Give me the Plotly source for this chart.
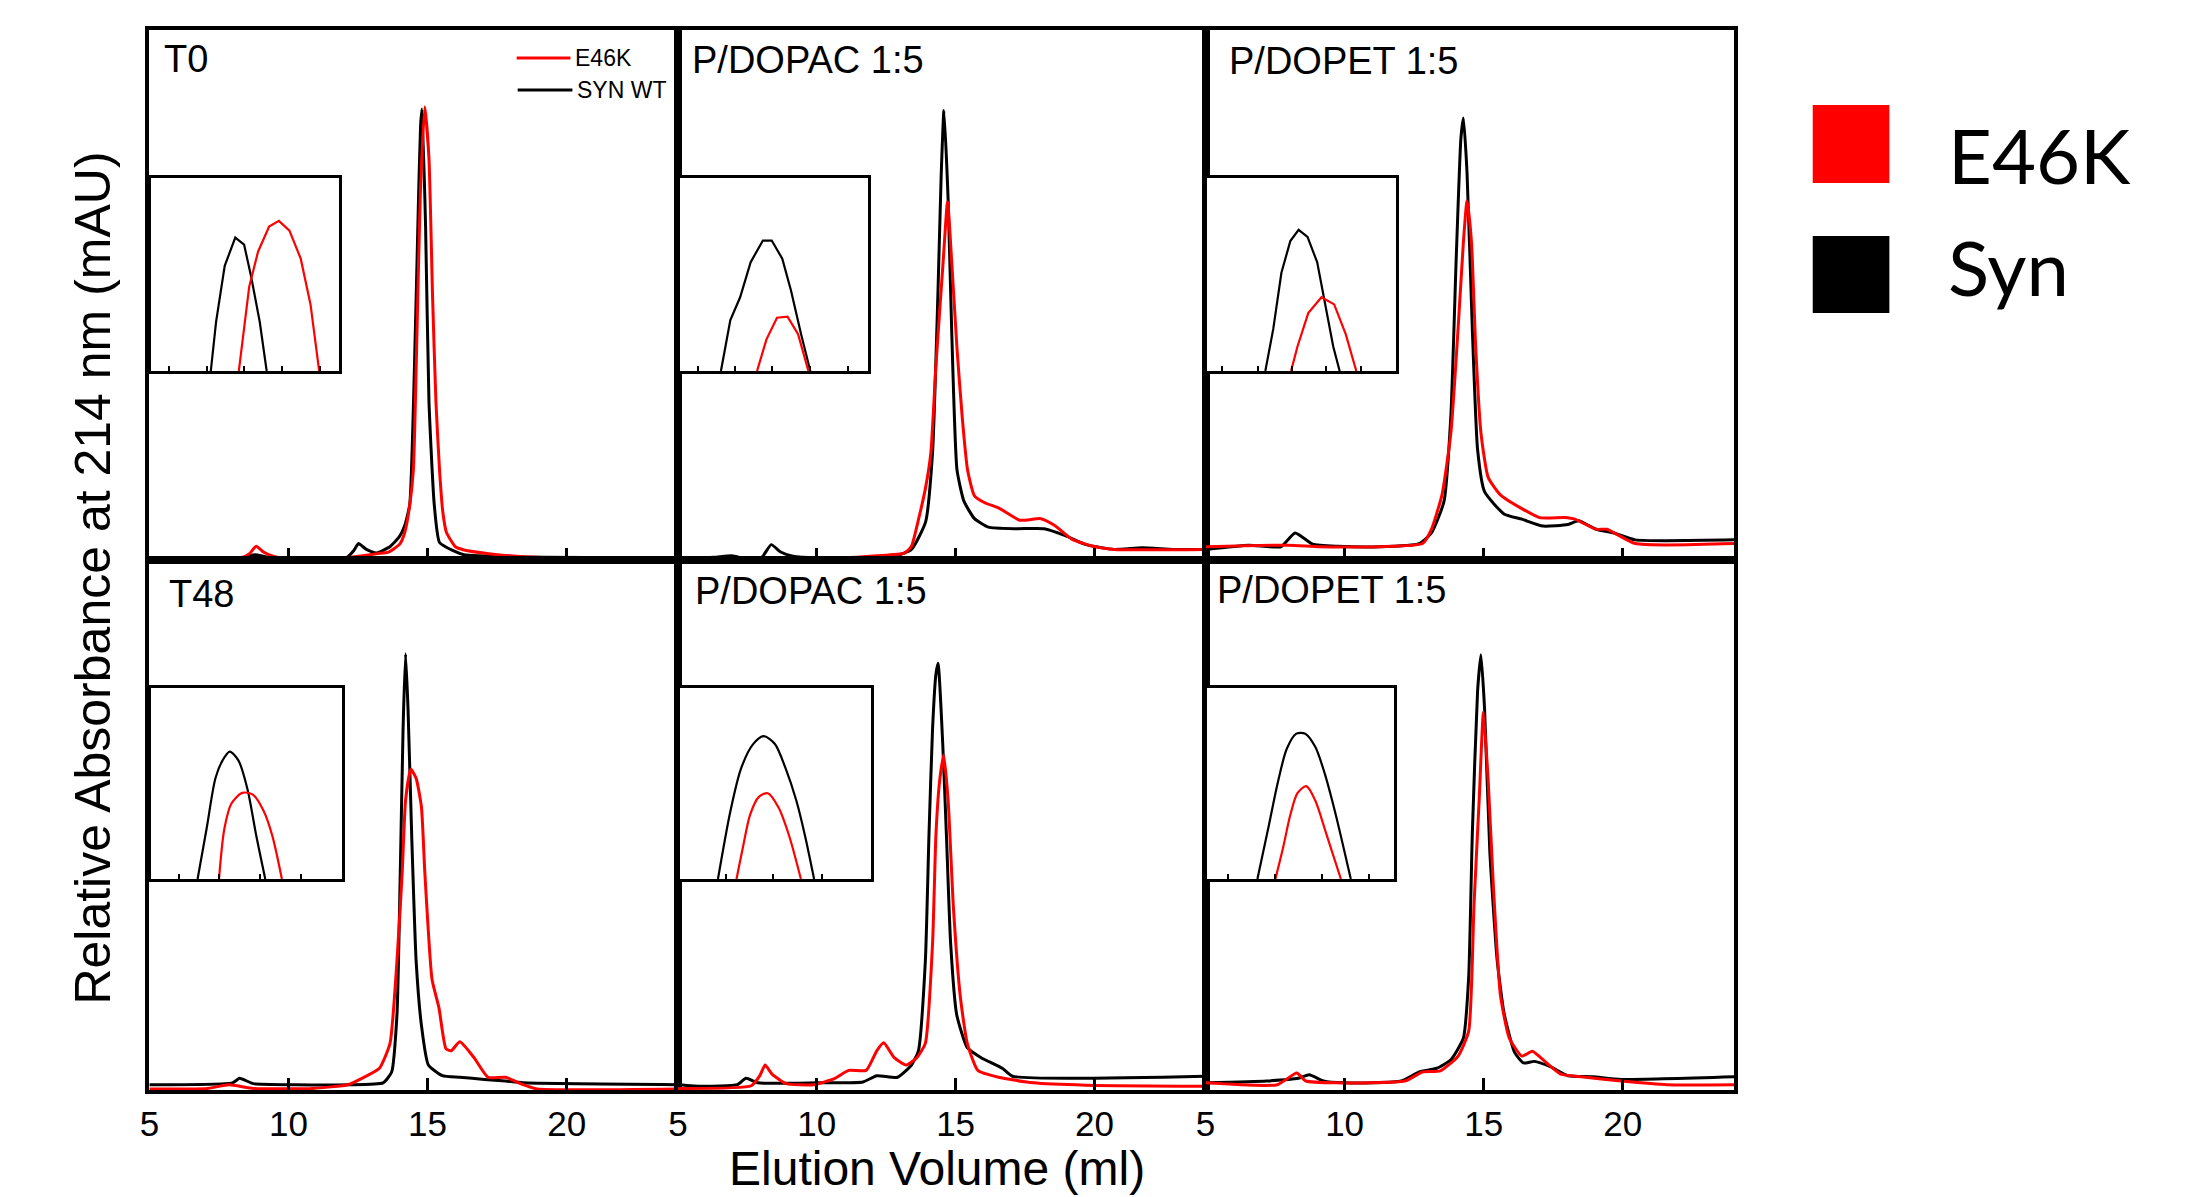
import plotly.graph_objects as go

W, H = 2190, 1197


def fx(px):
    return px / W


def fy(py):
    return 1 - py / H


# ---------------- text ----------------
PANEL_TITLES = ["T0", "P/DOPAC 1:5", "P/DOPET 1:5", "T48", "P/DOPAC 1:5", "P/DOPET 1:5"]
INNER_LEGEND = ["E46K", "SYN WT"]
OUTER_LEGEND = ["E46K", "Syn"]
X_TITLE = "Elution Volume (ml)"
Y_TITLE = "Relative Absorbance at 214 nm (mAU)"
X_TICKS = [5, 10, 15, 20]
X_RANGE = [5, 24]

# ---------------- data: main chromatograms (ml, relative absorbance) ----------------
T0_SYN_ML = [5.0, 7.0, 8.4, 8.8, 9.3, 12.1, 12.35, 12.52, 12.8, 13.17, 13.67, 14.0, 14.18, 14.36, 14.53,
             14.68, 14.75, 14.80, 14.93, 15.05, 15.24, 15.43, 15.9, 16.31, 18.0, 24.0]
T0_SYN_ABS = [0.004, 0.004, 0.005, 0.010, 0.005, 0.005, 0.018, 0.031, 0.020, 0.013, 0.026, 0.045, 0.065, 0.105,
              0.366, 0.693, 0.82, 0.851, 0.627, 0.30, 0.105, 0.033, 0.018, 0.010, 0.006, 0.004]
T0_E46K_ML = [5.0, 8.3, 8.6, 8.84, 9.1, 9.5, 10.0, 12.0, 12.67, 13.2, 13.6, 14.0, 14.18, 14.35, 14.49, 14.62,
              14.74, 14.90, 15.05, 15.18, 15.3, 15.43, 15.55, 15.68, 16.0, 16.31, 17.2, 18.5, 20.0, 24.0]
T0_E46K_ABS = [0.003, 0.004, 0.012, 0.026, 0.015, 0.006, 0.003, 0.004, 0.008, 0.012, 0.015, 0.030, 0.052, 0.10,
               0.17, 0.43, 0.69, 0.855, 0.758, 0.497, 0.30, 0.17, 0.09, 0.052, 0.025, 0.019, 0.012, 0.006, 0.004, 0.003]

P2_SYN_ML = [5.0, 6.3, 6.94, 7.4, 8.0, 8.36, 8.7, 9.14, 10.0, 12.79, 13.41, 13.92, 14.17, 14.36, 14.48, 14.58,
             14.73, 14.86, 15.05, 15.30, 15.68, 16.18, 17.19, 18.19, 18.95, 19.70, 20.71, 21.71, 22.84, 24.0]
P2_SYN_ABS = [0.002, 0.005, 0.008, 0.003, 0.004, 0.029, 0.015, 0.007, 0.004, 0.007, 0.020, 0.072, 0.203, 0.497,
              0.725, 0.848, 0.680, 0.431, 0.170, 0.111, 0.078, 0.062, 0.059, 0.059, 0.046, 0.029, 0.020, 0.023,
              0.020, 0.020]
P2_E46K_ML = [5.0, 8.0, 8.4, 10.9, 12.16, 13.16, 13.41, 13.67, 13.92, 14.11, 14.29, 14.55, 14.71, 14.86, 15.05,
              15.24, 15.43, 15.68, 16.05, 16.56, 17.31, 18.07, 18.57, 19.2, 19.95, 20.71, 24.0]
P2_E46K_ABS = [0.001, 0.002, 0.004, 0.004, 0.008, 0.013, 0.026, 0.078, 0.137, 0.203, 0.366, 0.562, 0.676, 0.562,
               0.399, 0.268, 0.170, 0.121, 0.108, 0.098, 0.075, 0.078, 0.065, 0.039, 0.026, 0.020, 0.020]

P3_SYN_ML = [5.0, 6.56, 7.71, 8.22, 8.85, 9.75, 11.27, 12.68, 13.12, 13.57, 13.82, 14.01, 14.18, 14.27, 14.40,
             14.59, 14.78, 15.03, 15.73, 16.37, 17.13, 18.03, 18.41, 19.04, 19.68, 20.45, 24.0]
P3_SYN_ABS = [0.020, 0.028, 0.025, 0.051, 0.030, 0.026, 0.025, 0.031, 0.051, 0.11, 0.273, 0.567, 0.796, 0.834,
              0.731, 0.437, 0.208, 0.129, 0.087, 0.077, 0.064, 0.067, 0.074, 0.058, 0.051, 0.038, 0.038]
P3_E46K_ML = [5.0, 7.96, 9.11, 11.27, 12.8, 13.12, 13.5, 13.82, 14.08, 14.27, 14.40, 14.56, 14.71, 14.9, 15.16,
              15.6, 16.37, 17.01, 17.9, 18.28, 19.04, 19.43, 20.45, 24.0]
P3_E46K_ABS = [0.025, 0.028, 0.025, 0.025, 0.031, 0.058, 0.123, 0.24, 0.437, 0.60, 0.678, 0.60, 0.404, 0.24,
               0.156, 0.123, 0.097, 0.080, 0.080, 0.077, 0.058, 0.058, 0.031, 0.031]

P4_SYN_ML = [5.0, 7.99, 8.24, 8.74, 10.25, 12.14, 13.4, 13.71, 13.9, 14.02, 14.12, 14.21, 14.3, 14.43, 14.59,
             14.78, 15.03, 15.53, 16.16, 17.04, 17.8, 18.43, 24.0]
P4_SYN_ABS = [0.010, 0.0135, 0.022, 0.012, 0.010, 0.010, 0.0135, 0.034, 0.142, 0.412, 0.682, 0.823, 0.716, 0.48,
              0.243, 0.122, 0.047, 0.027, 0.024, 0.020, 0.017, 0.0135, 0.010]
P4_E46K_ML = [5.0, 7.1, 7.86, 8.74, 10.88, 12.14, 12.64, 13.27, 13.65, 13.9, 14.09, 14.21, 14.40, 14.59, 14.78,
              14.9, 15.16, 15.41, 15.66, 15.85, 16.16, 16.67, 17.17, 17.8, 18.43, 18.93, 24.0]
P4_E46K_ABS = [0.002, 0.003, 0.010, 0.003, 0.003, 0.010, 0.022, 0.041, 0.088, 0.243, 0.412, 0.547, 0.605, 0.588,
               0.534, 0.412, 0.209, 0.155, 0.078, 0.074, 0.091, 0.061, 0.024, 0.024, 0.010, 0.002, 0.002]

P5_SYN_ML = [5.0, 5.88, 7.14, 7.45, 7.89, 10.03, 11.66, 12.16, 12.91, 13.41, 13.66, 13.91, 14.04, 14.17, 14.29,
             14.37, 14.54, 14.67, 14.82, 15.04, 15.42, 15.92, 16.68, 17.05, 24.0]
P5_SYN_ABS = [0.010, 0.007, 0.010, 0.022, 0.0135, 0.0135, 0.015, 0.027, 0.024, 0.047, 0.074, 0.243, 0.48, 0.682,
              0.784, 0.805, 0.649, 0.48, 0.277, 0.142, 0.080, 0.061, 0.041, 0.026, 0.026]
P5_E46K_ML = [5.0, 7.64, 7.95, 8.14, 8.39, 8.9, 9.9, 10.65, 11.15, 11.78, 12.16, 12.41, 12.79, 13.22, 13.6, 13.91,
              14.17, 14.29, 14.42, 14.57, 14.73, 14.92, 15.17, 15.42, 15.8, 16.55, 17.8, 19.69, 24.0]
P5_E46K_ABS = [0.003, 0.008, 0.027, 0.047, 0.030, 0.012, 0.010, 0.022, 0.037, 0.037, 0.074, 0.089, 0.061, 0.047,
               0.061, 0.088, 0.277, 0.48, 0.581, 0.632, 0.547, 0.345, 0.176, 0.088, 0.037, 0.024, 0.0135, 0.009,
               0.007]

P6_SYN_ML = [5.0, 7.2, 8.34, 8.73, 9.24, 10.0, 12.04, 12.68, 13.31, 13.82, 14.27, 14.46, 14.59, 14.78, 14.9,
             15.03, 15.22, 15.48, 15.73, 16.11, 16.43, 16.82, 17.39, 18.03, 18.92, 19.94, 24.0]
P6_SYN_ABS = [0.0135, 0.017, 0.022, 0.029, 0.017, 0.0135, 0.017, 0.034, 0.041, 0.057, 0.098, 0.213, 0.483, 0.753,
              0.821, 0.72, 0.449, 0.247, 0.145, 0.071, 0.051, 0.054, 0.044, 0.027, 0.025, 0.020, 0.025]
P6_E46K_ML = [5.0, 7.58, 8.28, 8.6, 9.75, 12.17, 12.8, 13.44, 14.08, 14.46, 14.65, 14.84, 14.99, 15.16, 15.35,
              15.6, 15.92, 16.37, 16.75, 17.26, 17.77, 18.66, 19.94, 21.59, 24.0]
P6_E46K_ABS = [0.0135, 0.010, 0.032, 0.017, 0.0135, 0.017, 0.034, 0.036, 0.064, 0.111, 0.348, 0.551, 0.713, 0.584,
               0.382, 0.179, 0.098, 0.064, 0.073, 0.051, 0.030, 0.024, 0.017, 0.010, 0.010]

# ---------------- data: insets (zoomed peak, relative units) ----------------
T0_INSET_SYN_U = [0.316, 0.344, 0.390, 0.446, 0.493, 0.530, 0.576, 0.613]
T0_INSET_SYN_V = [0, 0.255, 0.545, 0.691, 0.655, 0.491, 0.255, 0]
T0_INSET_E46K_U = [0.465, 0.493, 0.520, 0.567, 0.626, 0.678, 0.734, 0.794, 0.846, 0.892]
T0_INSET_E46K_V = [0, 0.218, 0.436, 0.618, 0.749, 0.778, 0.727, 0.582, 0.345, 0]
T0_INSET_TICKS = [0.093, 0.297, 0.493, 0.697, 0.898]

P2_INSET_SYN_U = [0.218, 0.268, 0.320, 0.376, 0.441, 0.488, 0.544, 0.590, 0.646, 0.693]
P2_INSET_SYN_V = [0, 0.264, 0.382, 0.564, 0.676, 0.676, 0.582, 0.418, 0.182, 0]
P2_INSET_E46K_U = [0.410, 0.460, 0.516, 0.572, 0.628, 0.683]
P2_INSET_E46K_V = [0, 0.164, 0.276, 0.282, 0.191, 0]
P2_INSET_TICKS = [0.097, 0.292, 0.488, 0.693, 0.894]

P3_INSET_SYN_U = [0.311, 0.353, 0.396, 0.443, 0.487, 0.534, 0.585, 0.632, 0.670, 0.704]
P3_INSET_SYN_V = [0, 0.218, 0.509, 0.673, 0.731, 0.695, 0.564, 0.327, 0.127, 0]
P3_INSET_E46K_U = [0.447, 0.481, 0.538, 0.608, 0.675, 0.736, 0.792]
P3_INSET_E46K_V = [0, 0.127, 0.300, 0.382, 0.345, 0.191, 0]
P3_INSET_TICKS = [0.081, 0.270, 0.450, 0.632, 0.817]

P4_INSET_SYN_U = [0.242, 0.289, 0.335, 0.372, 0.410, 0.456, 0.503, 0.549, 0.596]
P4_INSET_SYN_V = [0, 0.263, 0.526, 0.620, 0.667, 0.620, 0.470, 0.226, 0]
P4_INSET_E46K_U = [0.354, 0.382, 0.419, 0.475, 0.531, 0.587, 0.633, 0.683]
P4_INSET_E46K_V = [0, 0.263, 0.395, 0.451, 0.442, 0.357, 0.226, 0]
P4_INSET_TICKS = [0.143, 0.356, 0.569, 0.782]

P5_INSET_SYN_U = [0.199, 0.264, 0.320, 0.382, 0.438, 0.497, 0.553, 0.609, 0.655, 0.702]
P5_INSET_SYN_V = [0, 0.355, 0.579, 0.705, 0.748, 0.707, 0.579, 0.411, 0.224, 0]
P5_INSET_E46K_U = [0.296, 0.330, 0.367, 0.413, 0.460, 0.516, 0.572, 0.633]
P5_INSET_E46K_V = [0, 0.168, 0.336, 0.430, 0.449, 0.374, 0.224, 0]
P5_INSET_TICKS = [0.242, 0.488, 0.743]

P6_INSET_SYN_U = [0.272, 0.333, 0.381, 0.429, 0.480, 0.528, 0.581, 0.629, 0.686, 0.771]
P6_INSET_SYN_V = [0, 0.280, 0.505, 0.682, 0.761, 0.761, 0.692, 0.561, 0.355, 0]
P6_INSET_E46K_U = [0.368, 0.410, 0.448, 0.486, 0.533, 0.581, 0.638, 0.718]
P6_INSET_E46K_V = [0, 0.168, 0.336, 0.449, 0.486, 0.411, 0.243, 0]
P6_INSET_TICKS = [0.114, 0.364, 0.615, 0.870]

MAIN = [
    (T0_SYN_ML, T0_SYN_ABS, T0_E46K_ML, T0_E46K_ABS),
    (P2_SYN_ML, P2_SYN_ABS, P2_E46K_ML, P2_E46K_ABS),
    (P3_SYN_ML, P3_SYN_ABS, P3_E46K_ML, P3_E46K_ABS),
    (P4_SYN_ML, P4_SYN_ABS, P4_E46K_ML, P4_E46K_ABS),
    (P5_SYN_ML, P5_SYN_ABS, P5_E46K_ML, P5_E46K_ABS),
    (P6_SYN_ML, P6_SYN_ABS, P6_E46K_ML, P6_E46K_ABS),
]
INSETS = [
    (T0_INSET_SYN_U, T0_INSET_SYN_V, T0_INSET_E46K_U, T0_INSET_E46K_V, T0_INSET_TICKS),
    (P2_INSET_SYN_U, P2_INSET_SYN_V, P2_INSET_E46K_U, P2_INSET_E46K_V, P2_INSET_TICKS),
    (P3_INSET_SYN_U, P3_INSET_SYN_V, P3_INSET_E46K_U, P3_INSET_E46K_V, P3_INSET_TICKS),
    (P4_INSET_SYN_U, P4_INSET_SYN_V, P4_INSET_E46K_U, P4_INSET_E46K_V, P4_INSET_TICKS),
    (P5_INSET_SYN_U, P5_INSET_SYN_V, P5_INSET_E46K_U, P5_INSET_E46K_V, P5_INSET_TICKS),
    (P6_INSET_SYN_U, P6_INSET_SYN_V, P6_INSET_E46K_U, P6_INSET_E46K_V, P6_INSET_TICKS),
]

# ---------------- layout geometry (pixels) ----------------
RED = "#ff0000"
BLACK = "#000000"
FONT = "Liberation Sans, Arial, sans-serif"
LEGEND_FONT = "Lato, Noto Sans, sans-serif"
COLS = [(140, 671), (671, 1201), (1201, 1732)]
ROWS = [(30, 560), (560, 1090)]
INSET_X = [(142, 331), (673, 862), (1202, 1392), (142, 334), (673, 865), (1202, 1390)]
INSET_Y = [(178, 371), (178, 371), (178, 371), (688, 879), (688, 879), (688, 879)]
TITLE_POS = [(154, 59), (684, 60), (1224, 61), (159, 594), (687, 591), (1212, 590)]

fig = go.Figure()
layout = dict(
    width=W, height=H, autosize=False,
    margin=dict(l=0, r=0, t=0, b=0, pad=0),
    paper_bgcolor="white", plot_bgcolor="white",
    showlegend=False,
    font=dict(family=FONT, color="black"),
)

for i in range(6):
    r, c = divmod(i, 3)
    n = i + 1
    xs = "" if n == 1 else str(n)
    syn_x, syn_y, e_x, e_y = MAIN[i]
    fig.add_trace(go.Scatter(x=syn_x, y=syn_y, mode="lines", name="SYN WT",
                             line=dict(color=BLACK, width=3, shape="spline", smoothing=0.5),
                             xaxis="x" + xs, yaxis="y" + xs, hoverinfo="skip"))
    fig.add_trace(go.Scatter(x=e_x, y=e_y, mode="lines", name="E46K",
                             line=dict(color=RED, width=3, shape="spline", smoothing=0.5),
                             xaxis="x" + xs, yaxis="y" + xs, hoverinfo="skip"))
    x0, x1 = COLS[c]
    y0, y1 = ROWS[r]
    layout["xaxis" + xs] = dict(
        domain=[fx(x0), fx(x1)], range=X_RANGE, anchor="y" + xs,
        showline=True, linecolor="black", linewidth=4, mirror=True,
        showgrid=False, zeroline=False,
        ticks="inside", ticklen=12, tickwidth=3, tickcolor="black",
        tickmode="array", tickvals=X_TICKS, ticktext=[str(t) for t in X_TICKS],
        showticklabels=(r == 1), tickfont=dict(size=35, family=FONT, color="black"),
        ticklabelstandoff=0,
    )
    layout["yaxis" + xs] = dict(
        domain=[fy(y1), fy(y0)], range=[0, 1], anchor="x" + xs,
        showline=True, linecolor="black", linewidth=4, mirror=True,
        showgrid=False, zeroline=False, ticks="", showticklabels=False,
    )

for i in range(6):
    n = i + 7
    xs = str(n)
    su, sv, eu, ev, ticks = INSETS[i]
    shape = "linear" if i < 3 else "spline"
    fig.add_trace(go.Scatter(x=su, y=sv, mode="lines", name="SYN WT",
                             line=dict(color=BLACK, width=2.2, shape=shape, smoothing=0.8),
                             xaxis="x" + xs, yaxis="y" + xs, hoverinfo="skip"))
    fig.add_trace(go.Scatter(x=eu, y=ev, mode="lines", name="E46K",
                             line=dict(color=RED, width=2.2, shape=shape, smoothing=0.8),
                             xaxis="x" + xs, yaxis="y" + xs, hoverinfo="skip"))
    x0, x1 = INSET_X[i]
    y0, y1 = INSET_Y[i]
    layout["xaxis" + xs] = dict(
        domain=[fx(x0), fx(x1)], range=[0, 1], anchor="y" + xs,
        showline=True, linecolor="black", linewidth=2.5, mirror=True,
        showgrid=False, zeroline=False,
        ticks="inside", ticklen=5, tickwidth=2, tickcolor="black",
        tickmode="array", tickvals=ticks, showticklabels=False,
    )
    layout["yaxis" + xs] = dict(
        domain=[fy(y1), fy(y0)], range=[0, 1], anchor="x" + xs,
        showline=True, linecolor="black", linewidth=2.5, mirror=True,
        showgrid=False, zeroline=False, ticks="", showticklabels=False,
    )

annotations = []
for title, (tx, ty) in zip(PANEL_TITLES, TITLE_POS):
    annotations.append(dict(text=title, x=fx(tx), y=fy(ty), xref="paper", yref="paper",
                            xanchor="left", yanchor="middle", showarrow=False, borderpad=0,
                            font=dict(size=38, family=FONT, color="black")))

# inner legend of the T0 panel
shapes = []
INNER_POS = [(509, 563, 58), (510, 565, 90)]
for label, color, (lx0, lx1, ly) in zip(INNER_LEGEND, [RED, BLACK], INNER_POS):
    shapes.append(dict(type="line", xref="paper", yref="paper", x0=fx(lx0), x1=fx(lx1), y0=fy(ly), y1=fy(ly),
                       line=dict(color=color, width=3)))
    annotations.append(dict(text=label, x=fx(lx1 + 4), y=fy(ly), xref="paper", yref="paper",
                            xanchor="left", yanchor="middle", showarrow=False, borderpad=0,
                            font=dict(size=23, family=FONT, color="black")))

# outer legend with squares
OUTER_POS = [(105, 183, 154), (236, 313, 266)]
for label, color, (sy0, sy1, ty) in zip(OUTER_LEGEND, [RED, BLACK], OUTER_POS):
    shapes.append(dict(type="rect", xref="paper", yref="paper", x0=fx(1811), x1=fx(1888), y0=fy(sy1), y1=fy(sy0),
                       fillcolor=color, line=dict(width=0)))
    annotations.append(dict(text=label, x=fx(1946), y=fy(ty), xref="paper", yref="paper",
                            xanchor="left", yanchor="middle", showarrow=False, borderpad=0,
                            font=dict(size=76, family=LEGEND_FONT, color="black")))

# axis titles
annotations.append(dict(text=X_TITLE, x=fx(931), y=fy(1168), xref="paper", yref="paper",
                        xanchor="center", yanchor="middle", showarrow=False, borderpad=0,
                        font=dict(size=48, family=FONT, color="black")))
annotations.append(dict(text=Y_TITLE, x=fx(83), y=fy(578), xref="paper", yref="paper",
                        xanchor="center", yanchor="middle", showarrow=False, textangle=-90, borderpad=0,
                        font=dict(size=50, family=FONT, color="black")))

layout["annotations"] = annotations
layout["shapes"] = shapes
fig.update_layout(**layout)
fig.write_html("out.html", config={"displayModeBar": False},
               post_script="document.body.style.margin='0';document.body.style.overflow='hidden';")
